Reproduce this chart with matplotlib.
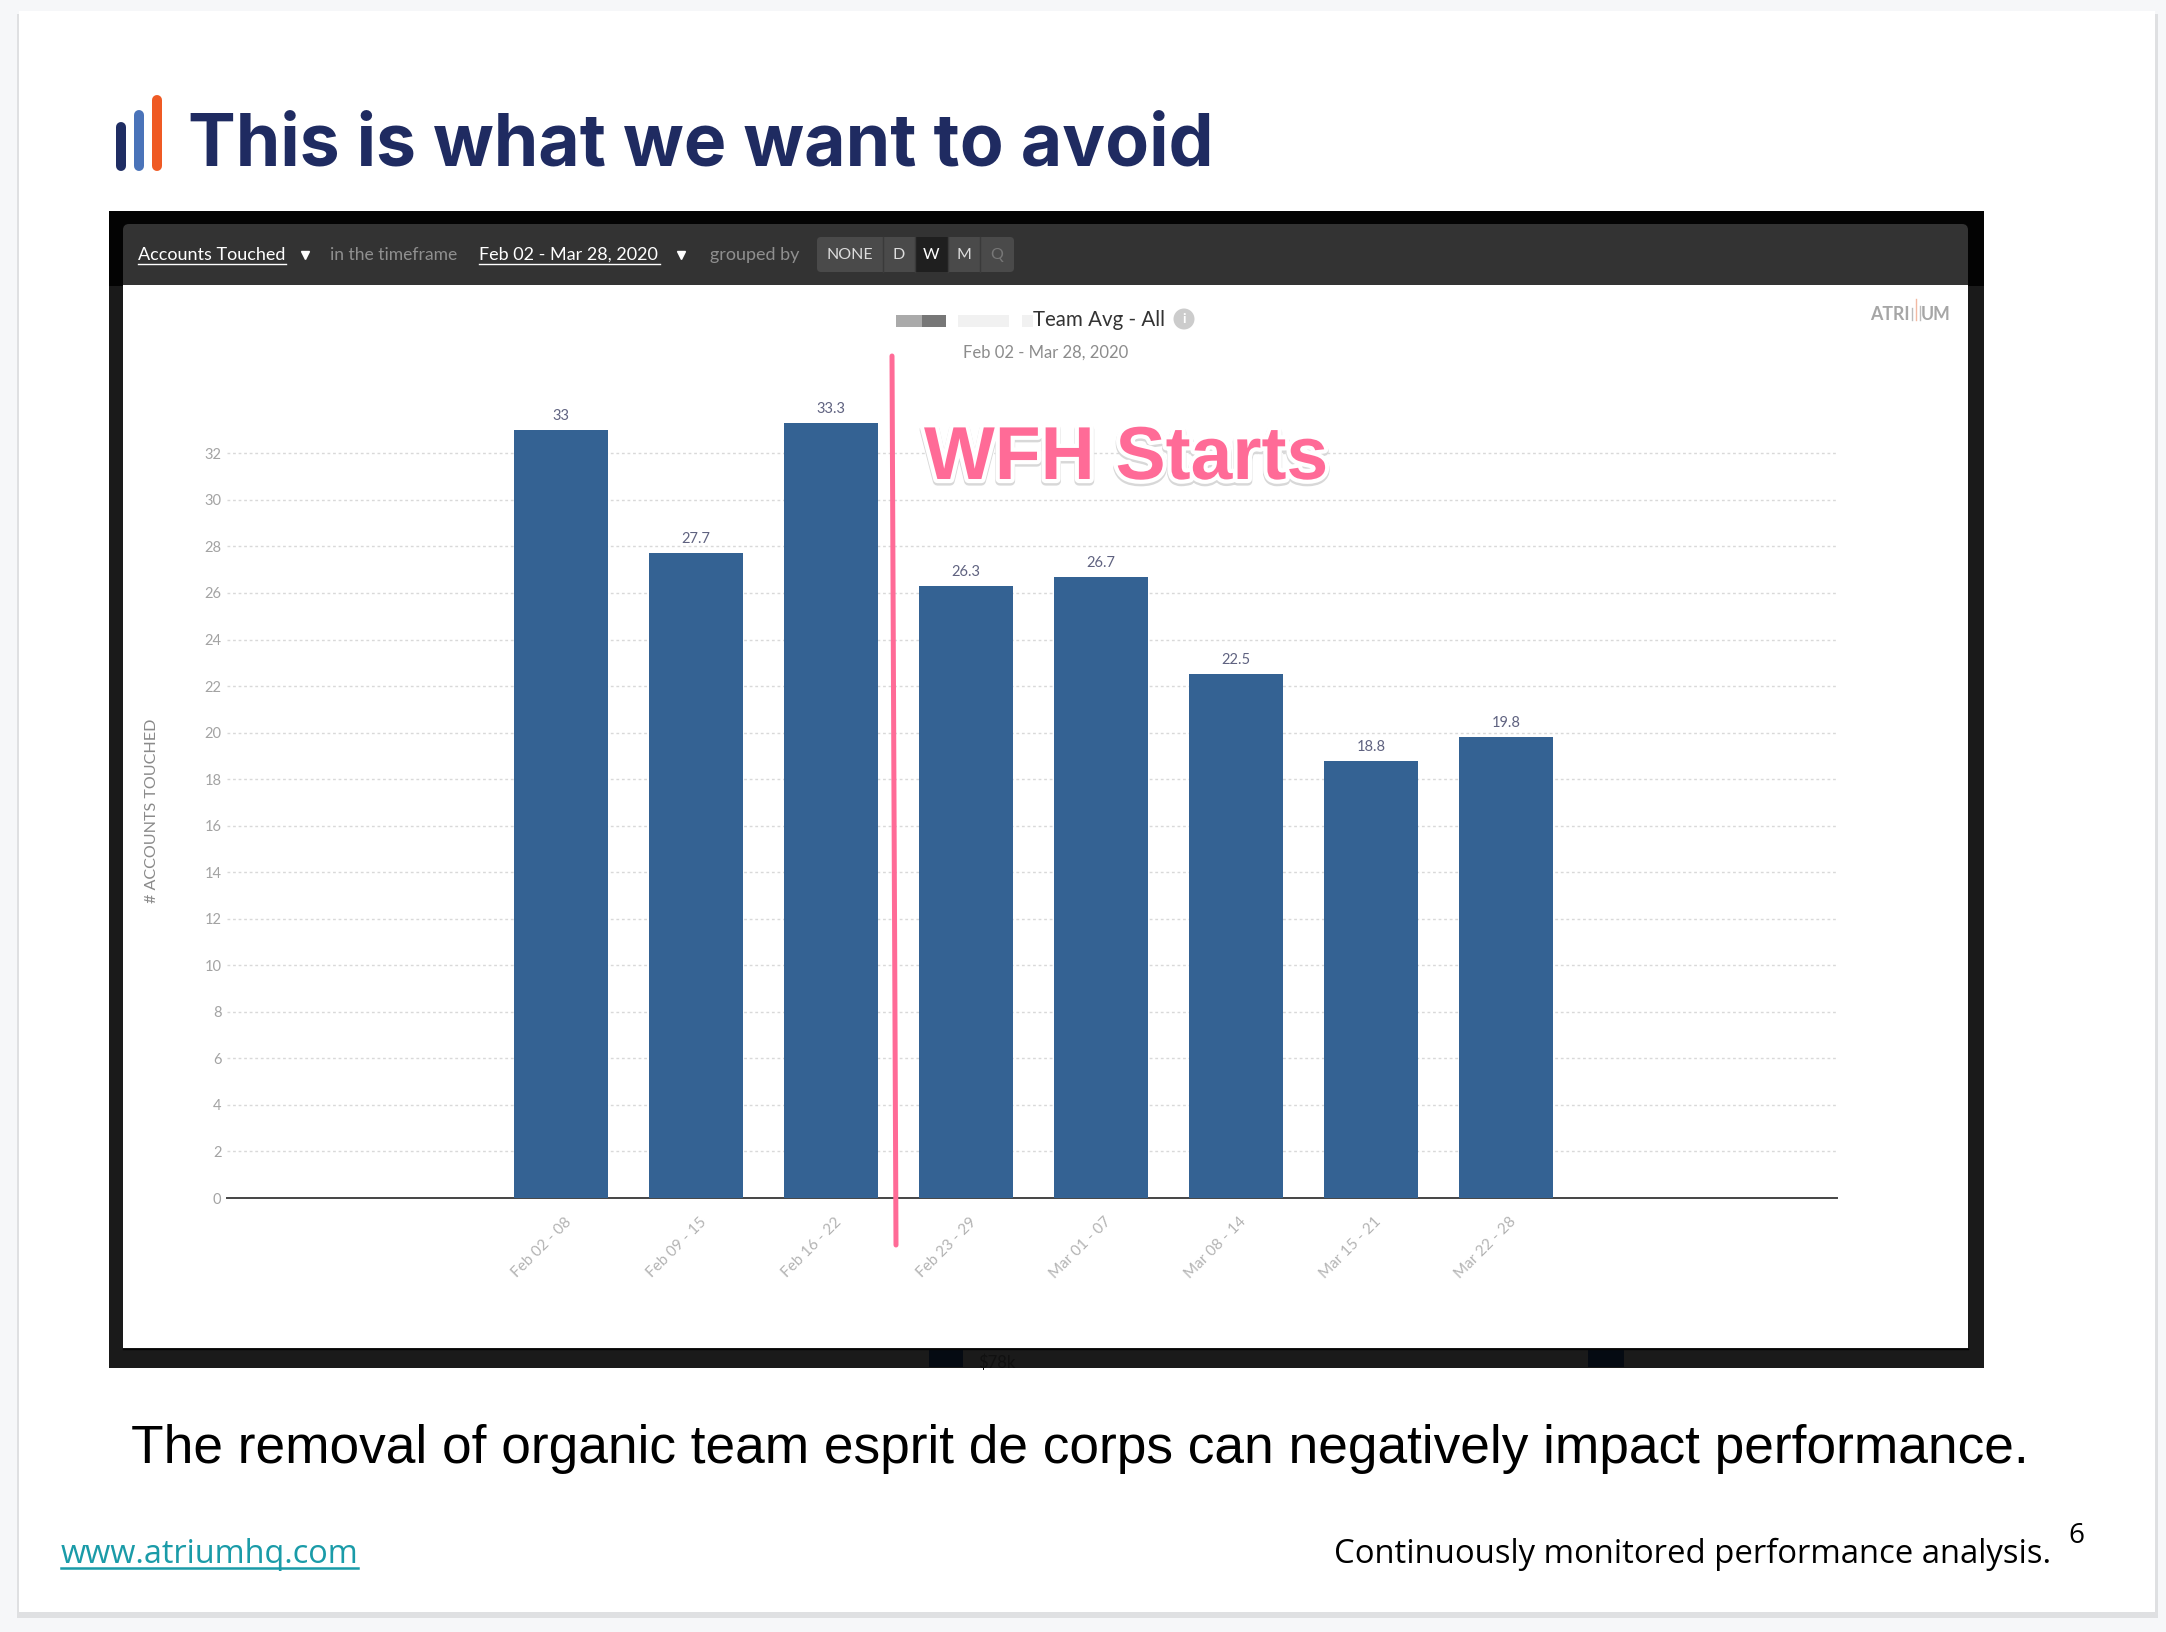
import matplotlib
matplotlib.use("Agg")
import matplotlib.pyplot as plt
import matplotlib.patheffects as pe
from matplotlib.patches import Rectangle, Circle, FancyBboxPatch
from matplotlib.transforms import ScaledTranslation

W, H = 2166, 1632

weeks = ["Feb 02 - 08", "Feb 09 - 15", "Feb 16 - 22", "Feb 23 - 29",
         "Mar 01 - 07", "Mar 08 - 14", "Mar 15 - 21", "Mar 22 - 28"]
accounts = [33, 27.7, 33.3, 26.3, 26.7, 22.5, 18.8, 19.8]
value_labels = ["33", "27.7", "33.3", "26.3", "26.7", "22.5", "18.8", "19.8"]
y_ticks = list(range(0, 33, 2))

UI_FONT = "Lato"

fig = plt.figure(figsize=(W / 100, H / 100), dpi=100, facecolor="#f6f7f9")


def pixel_axes(zorder):
    a = fig.add_axes([0, 0, 1, 1], zorder=zorder)
    a.set_xlim(0, W)
    a.set_ylim(H, 0)
    a.axis("off")
    a.patch.set_alpha(0)
    return a


def box(a, x0, y0, x1, y1, color, **kwargs):
    a.add_patch(Rectangle((x0, y0), x1 - x0, y1 - y0, facecolor=color, edgecolor="none", **kwargs))


def label(a, x, y, s, size, color, ha="left", va="center", **kwargs):
    kwargs.setdefault("family", UI_FONT)
    return a.text(x, y, s, fontsize=size, color=color, ha=ha, va=va, **kwargs)


# slide and screenshot frame
back = pixel_axes(0)
box(back, 17, 14, 2158, 1618, "#dfe0e2")
box(back, 19, 11, 2155, 1612, "white")
box(back, 109, 211, 1984, 1368, "#1a1a1a")
box(back, 109, 211, 1984, 286, "#030303")
box(back, 123, 285, 1968, 1348, "white")
back.plot([123, 1968], [1349, 1349], color="#050505", lw=1)
box(back, 929, 1350, 963, 1367, "#050a12")
box(back, 1588, 1350, 1624, 1367, "#050a12")
label(back, 978, 1363, "$78k", 12, "#101010", clip_on=True)
back.add_patch(FancyBboxPatch((123, 224), 1845, 61, boxstyle="round,pad=0,rounding_size=6",
                              facecolor="#333333", edgecolor="none"))
box(back, 123, 260, 1968, 285, "#333333")

# title
for x, top, c in [(121, 127, "#1f2d63"), (139, 115, "#4a73b9"), (157, 100, "#ef5a24")]:
    back.plot([x, x], [top, 166], color=c, lw=7.2, solid_capstyle="round")
label(back, 188, 166, "This is what we want to avoid", 51.5, "#1f2b61", va="baseline",
      weight="bold", family="Inter")

# toolbar
label(back, 138, 255, "Accounts Touched", 13, "white")
back.plot([138, 286], [264, 264], color="white", lw=1)
label(back, 330, 255, "in the timeframe", 12.6, "#8f8f8f")
label(back, 479, 255, "Feb 02 - Mar 28, 2020", 13, "white")
back.plot([479, 660], [264, 264], color="white", lw=1)
label(back, 710, 255, "grouped by", 13, "#8f8f8f")
for x in [305, 681]:
    back.plot([x], [255], marker="v", ms=5.5, color="white")
back.add_patch(FancyBboxPatch((817, 237), 197, 35, boxstyle="round,pad=0,rounding_size=4",
                              facecolor="#4a4a4a", edgecolor="none"))
box(back, 915, 237, 948, 272, "#1f1f1f")
for x in [883, 915, 948, 980]:
    back.plot([x, x], [237, 272], color="#3a3a3a", lw=1)
for x, s, c in [(850, "NONE", "#dddddd"), (899, "D", "#dddddd"), (931, "W", "white"),
                (964, "M", "#dddddd"), (997, "Q", "#777777")]:
    label(back, x, 255, s, 11.5, c, ha="center")

# legend, the names are blurred in the screenshot
box(back, 896, 315, 922, 327, "#aaaaaa")
box(back, 922, 315, 946, 327, "#777777")
box(back, 958, 315, 1009, 327, "#f1f1f1")
box(back, 1022, 315, 1033, 327, "#f1f1f1")
label(back, 1033, 320, "Team Avg - All", 14.8, "#333333")
back.add_patch(Circle((1184, 319), 10.5, facecolor="#cccccc", edgecolor="none"))
label(back, 1184, 319, "i", 10, "white", ha="center", weight="bold")
label(back, 963, 353, "Feb 02 - Mar 28, 2020", 12, "#8c8c8c")

# logo of the tool
label(back, 1870, 320, "ATRI", 12.8, "#a6a6a6", va="baseline", weight="bold")
label(back, 1921, 320, "UM", 12.8, "#a6a6a6", va="baseline", weight="bold")
back.plot([1912, 1912], [308, 320], color="#bbbbbb", lw=1)
back.plot([1916, 1916], [299, 320], color="#f2b9a3", lw=1)
back.plot([1920, 1920], [306, 320], color="#bbbbbb", lw=1)

# bottom texts
label(back, 131, 1463, "The removal of organic team esprit de corps can negatively impact performance.",
      38.3, "black", va="baseline", family="Liberation Sans")
label(back, 61, 1563, "www.atriumhq.com", 23.4, "#1a9ba8", va="baseline", family="Open Sans")
back.plot([61, 358], [1568, 1568], color="#1a9ba8", lw=1.8)
label(back, 2051, 1563, "Continuously monitored performance analysis.", 23.7, "black",
      ha="right", va="baseline", family="Open Sans")
label(back, 2076, 1543, "6", 20, "black", ha="center", va="baseline", family="Open Sans")

# the chart itself, 135 px per category and 23.27 px per account
left, right, zero, top = 227, 1837, 1198, 400
ax = fig.add_axes([left / W, 1 - zero / H, (right - left) / W, (zero - top) / H], zorder=1)
ax.patch.set_alpha(0)
ax.set_xlim((left - 561) / 135, (right - 561) / 135)
ax.set_ylim(0, (zero - top) / 23.27)

positions = list(range(len(weeks)))
ax.bar(positions, accounts, width=0.7, color="#346293", zorder=3)
ax.grid(False)
for v in y_ticks[1:]:
    ax.axhline(v, color="#d9d9d9", lw=1, ls=(0, (2, 2)), zorder=1)
for x, v, s in zip(positions, accounts, value_labels):
    ax.annotate(s, (x, v), xytext=(0, 5), textcoords="offset points", ha="center", va="bottom",
                fontsize=10.5, color="#5f6280", family=UI_FONT)

for side in ["top", "right", "left"]:
    ax.spines[side].set_visible(False)
ax.spines["bottom"].set_color("#444444")
ax.spines["bottom"].set_linewidth(1.4)

ax.set_yticks(y_ticks)
ax.set_yticklabels(y_ticks, fontsize=10.5, color="#a3a3a3", family=UI_FONT)
ax.tick_params(axis="y", length=0, pad=4)
ax.set_xticks(positions)
ax.set_xticklabels(weeks, fontsize=11, color="#b3b3b3", family=UI_FONT, rotation=45,
                   ha="right", va="top", rotation_mode="anchor")
ax.tick_params(axis="x", length=0, pad=12)
shift = ScaledTranslation(0.03, 0, fig.dpi_scale_trans)
for t in ax.get_xticklabels():
    t.set_transform(t.get_transform() + shift)
label(back, 152, 811, "# ACCOUNTS TOUCHED", 11.6, "#8a8a8a", ha="center", rotation=90)

# annotation on top of the bars
front = pixel_axes(2)
front.plot([892, 896], [356, 1245], color="#ff6b97", lw=3.6, solid_capstyle="round")
wfh = label(front, 924, 479, "WFH Starts", 54, "#ff6b97", va="baseline",
            weight="bold", family="Liberation Sans")
wfh.set_path_effects([pe.Stroke(linewidth=6.5, foreground="#d8d8d8", offset=(0, -1.5)),
                      pe.Stroke(linewidth=6, foreground="white"),
                      pe.Normal()])

fig.savefig("out.png", dpi=100, facecolor=fig.get_facecolor())
